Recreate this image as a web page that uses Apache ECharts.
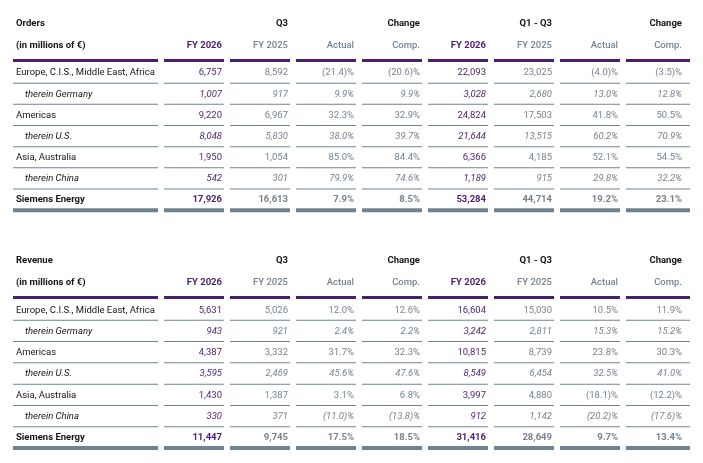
<!DOCTYPE html>
<html>
<head>
	<meta charset="utf-8">
	<title>Orders and Revenue</title>
	<script type="text/javascript" src="https://cdn.jsdelivr.net/npm/echarts@6.0.0/dist/echarts.min.js"></script>
	<style>
		html, body { margin: 0; padding: 0; background: #fff; }
	</style>
</head>
<body>
<div id="main" style="width: 703px; height: 463px"></div>

<script type="text/javascript">
// table data
var columns = ['FY 2026', 'FY 2025', 'Actual', 'Comp.', 'FY 2026', 'FY 2025', 'Actual', 'Comp.'];
var groupHeads = [[1, 'Q3'], [3, 'Change'], [5, 'Q1 - Q3'], [7, 'Change']];
var regions = ['Europe, C.I.S., Middle East, Africa', 'therein Germany', 'Americas', 'therein U.S.',
    'Asia, Australia', 'therein China', 'Siemens Energy'];

var ordersQ3Fy26 = [6757, 1007, 9220, 8048, 1950, 542, 17926];
var ordersQ3Fy25 = [8592, 917, 6967, 5830, 1054, 301, 16613];
var ordersQ3Actual = [-21.4, 9.9, 32.3, 38.0, 85.0, 79.9, 7.9];
var ordersQ3Comp = [-20.6, 9.9, 32.9, 39.7, 84.4, 74.6, 8.5];
var ordersYtdFy26 = [22093, 3028, 24824, 21644, 6366, 1189, 53284];
var ordersYtdFy25 = [23025, 2680, 17503, 13515, 4185, 915, 44714];
var ordersYtdActual = [-4.0, 13.0, 41.8, 60.2, 52.1, 29.8, 19.2];
var ordersYtdComp = [-3.5, 12.8, 50.5, 70.9, 54.5, 32.2, 23.1];

var revenueQ3Fy26 = [5631, 943, 4387, 3595, 1430, 330, 11447];
var revenueQ3Fy25 = [5026, 921, 3332, 2469, 1387, 371, 9745];
var revenueQ3Actual = [12.0, 2.4, 31.7, 45.6, 3.1, -11.0, 17.5];
var revenueQ3Comp = [12.6, 2.2, 32.3, 47.6, 6.8, -13.8, 18.5];
var revenueYtdFy26 = [16604, 3242, 10815, 8549, 3997, 912, 31416];
var revenueYtdFy25 = [15030, 2811, 8739, 6454, 4880, 1142, 28649];
var revenueYtdActual = [10.5, 15.3, 23.8, 32.5, -18.1, -20.2, 9.7];
var revenueYtdComp = [11.9, 15.2, 30.3, 41.0, -12.2, -17.6, 13.4];

var PURPLE = '#4b1e70';
var GREY_TEXT = '#76838f';
var GREY_LINE = '#70838f';
var BLACK = '#141414';
var FONT = 'Roboto, "Noto Sans", sans-serif';
var FONT_SIZE = 9.5;

function buildRows(cols) {
    return regions.map(function (r, i) {
        return [i].concat(cols.map(function (c) { return c[i]; }));
    });
}

var ordersRows = buildRows([ordersQ3Fy26, ordersQ3Fy25, ordersQ3Actual, ordersQ3Comp,
    ordersYtdFy26, ordersYtdFy25, ordersYtdActual, ordersYtdComp]);
var revenueRows = buildRows([revenueQ3Fy26, revenueQ3Fy25, revenueQ3Actual, revenueQ3Comp,
    revenueYtdFy26, revenueYtdFy25, revenueYtdActual, revenueYtdComp]);

function fmtCell(col, v) {
    if (col % 4 < 2) {
        return v.toLocaleString('en-US');
    }
    if (v < 0) {
        return '(' + Math.abs(v).toFixed(1) + ')%';
    }
    return v.toFixed(1) + '%';
}

function font(weight, style) {
    return (style || 'normal') + ' ' + (weight || 'normal') + ' ' + FONT_SIZE + 'px ' + FONT;
}

function makeRenderer(title) {
    return function (params, api) {
        var row = api.value(0);
        var band = api.size([1, 1]);
        var bw = band[0], bh = band[1];
        var children = [];
        var c0 = api.coord([0, row]);
        var yMid = c0[1] + 0.5;
        var yTop = c0[1] - bh / 2;
        var yBot = c0[1] + bh / 2;
        var labelLeft = c0[0] - bw / 2 - 148;
        var labelRight = c0[0] - bw / 2 - 3;
        var name = regions[row];
        var italic = name.indexOf('therein') === 0;
        var total = row === regions.length - 1;
        var fStyle = italic ? 'italic' : 'normal';
        var fWeight = total ? 'bold' : 'normal';

        function colX(i) { return api.coord([i, row])[0]; }

        function text(x, y, str, color, weight, style, align) {
            children.push({
                type: 'text',
                x: x, y: y,
                style: {
                    text: str, fill: color, font: font(weight, style),
                    align: align || 'right', verticalAlign: 'middle'
                }
            });
        }

        function bar(x1, x2, y, h, color) {
            children.push({
                type: 'rect',
                shape: { x: x1, y: y - h / 2, width: x2 - x1, height: h },
                style: { fill: color }
            });
        }

        function rules(y, h, color) {
            bar(labelLeft, labelRight, y, h, color);
            for (var i = 0; i < columns.length; i++) {
                var cx = colX(i);
                bar(cx - bw / 2 + 3, cx + bw / 2 - 3 + (i === columns.length - 1 ? 4 : 0), y, h, color);
            }
        }

        function textRight(i) {
            return colX(i) + bw / 2 - 5 + (i === columns.length - 1 ? -2 : 0);
        }

        // header rows above the first data row
        if (row === 0) {
            var yTitle = yTop - 38.5;
            var yHead = yTop - 16.5;
            text(labelLeft + 3, yTitle, title, BLACK, 'bold', 'normal', 'left');
            text(labelLeft + 3, yHead, '(in millions of \u20ac)', BLACK, 'bold', 'normal', 'left');
            groupHeads.forEach(function (g) {
                text(textRight(g[0]), yTitle, g[1], BLACK, 'bold');
            });
            columns.forEach(function (c, i) {
                var fy26 = i % 4 === 0;
                text(textRight(i), yHead, c, fy26 ? PURPLE : GREY_TEXT, fy26 ? 'bold' : '500');
            });
            rules(yTop - 1.5, 3, PURPLE);
        }

        text(labelLeft + (italic ? 12 : 3), yMid, name, BLACK, fWeight, fStyle, 'left');
        for (var i = 0; i < columns.length; i++) {
            var v = api.value(i + 1);
            text(textRight(i), yMid, fmtCell(i, v), i % 4 === 0 ? PURPLE : GREY_TEXT, fWeight, fStyle);
        }

        if (total) {
            rules(yBot, 4, GREY_LINE);
        } else {
            rules(yBot, 1, GREY_LINE);
        }

        return { type: 'group', children: children };
    };
}

var myChart = echarts.init(document.getElementById('main'), null, { renderer: 'canvas' });

var hiddenCat = function (idx, data, inverse) {
    return {
        type: 'category', gridIndex: idx, data: data, inverse: !!inverse,
        show: false, boundaryGap: true
    };
};
var colIdx = columns.map(function (c, i) { return i; });
var rowIdx = regions.map(function (r, i) { return i; });

option = {
    backgroundColor: '#ffffff',
    animation: false,
    grid: [
        { left: 161, width: 528, top: 62, height: 148.2 },
        { left: 161, width: 528, top: 299, height: 149 }
    ],
    xAxis: [hiddenCat(0, colIdx), hiddenCat(1, colIdx)],
    yAxis: [hiddenCat(0, rowIdx, true), hiddenCat(1, rowIdx, true)],
    series: [
        {
            type: 'custom',
            name: 'Orders',
            xAxisIndex: 0, yAxisIndex: 0,
            clip: false,
            encode: { x: -1, y: 0 },
            renderItem: makeRenderer('Orders'),
            data: ordersRows
        },
        {
            type: 'custom',
            name: 'Revenue',
            xAxisIndex: 1, yAxisIndex: 1,
            clip: false,
            encode: { x: -1, y: 0 },
            renderItem: makeRenderer('Revenue'),
            data: revenueRows
        }
    ]
};

myChart.setOption(option);
</script>
</body>
</html>
